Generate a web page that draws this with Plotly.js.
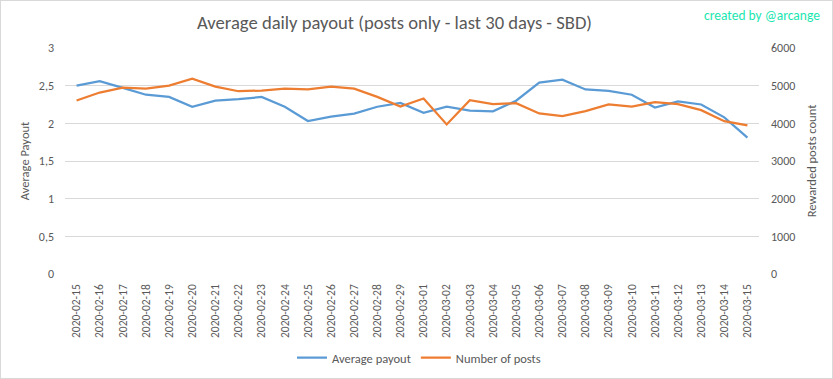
<!DOCTYPE html>
<html><head><meta charset="utf-8">
<script src="https://cdn.plot.ly/plotly-3.0.1.min.js"></script>
<style>
html,body{margin:0;padding:0;background:#fff;}
#chart{width:833px;height:379px;box-sizing:border-box;border:1px solid #d9d9d9;}
</style></head><body>
<div id="chart"></div>
<script>
const dates = ["2020-02-15","2020-02-16","2020-02-17","2020-02-18","2020-02-19","2020-02-20","2020-02-21","2020-02-22","2020-02-23","2020-02-24","2020-02-25","2020-02-26","2020-02-27","2020-02-28","2020-02-29","2020-03-01","2020-03-02","2020-03-03","2020-03-04","2020-03-05","2020-03-06","2020-03-07","2020-03-08","2020-03-09","2020-03-10","2020-03-11","2020-03-12","2020-03-13","2020-03-14","2020-03-15"];
const avgPayout = [2.50,2.56,2.47,2.38,2.35,2.22,2.30,2.32,2.35,2.22,2.03,2.09,2.13,2.22,2.27,2.14,2.22,2.17,2.16,2.30,2.54,2.58,2.45,2.43,2.38,2.21,2.29,2.25,2.08,1.81];
const numPosts = [4606,4817,4950,4923,5003,5188,4976,4852,4870,4923,4905,4976,4923,4703,4447,4658,3970,4614,4508,4535,4262,4190,4323,4500,4447,4561,4508,4350,4058,3944];
const leftTicks = [0,0.5,1,1.5,2,2.5,3];
const rightTicks = [0,1000,2000,3000,4000,5000,6000];

const FONT = "Carlito, 'Liberation Sans Narrow', Lato, sans-serif";
const GREY = "#595959";

const traces = [
  {x: dates, y: avgPayout, name: "Average payout", type: "scatter", mode: "lines",
   line: {color: "#5b9bd5", width: 2.25}, yaxis: "y"},
  {x: dates, y: numPosts, name: "Number of posts", type: "scatter", mode: "lines",
   line: {color: "#ed7d31", width: 2.25}, yaxis: "y2"}
];

const layout = {
  width: 831, height: 377,
  margin: {l: 64, r: 72.5, t: 47, b: 104, pad: 0, autoexpand: false},
  paper_bgcolor: "#fff", plot_bgcolor: "#fff",
  separators: ", ",
  font: {family: FONT, color: GREY, size: 12},
  title: {text: "Average daily payout (posts only - last 30 days - SBD)",
          font: {family: FONT, size: 18.6, color: GREY}, x: 0.4735, xref: "container", xanchor: "center",
          y: 1 - 21 / 377, yref: "container", yanchor: "middle"},
  showlegend: true,
  legend: {orientation: "h", x: 0.503, xref: "container", xanchor: "center", y: 1 - 357 / 377, yref: "container", yanchor: "middle",
           font: {family: FONT, size: 12.5, color: GREY}, itemwidth: 30, tracegroupgap: 0},
  xaxis: {type: "category", range: [-0.5, 29.5], showgrid: false, zeroline: false, automargin: false,
          showline: false, ticks: "", tickangle: -90, tickfont: {family: FONT, size: 11.5, color: GREY},
          ticklabelstandoff: 7, fixedrange: true},
  yaxis: {range: [0, 3], tickvals: leftTicks, showgrid: true, gridcolor: "#d9d9d9", gridwidth: 1, automargin: false,
          zeroline: false, showline: false, ticks: "", ticklabelstandoff: 10,
          tickfont: {family: FONT, size: 12, color: GREY},
          title: {text: "Average Payout", font: {family: FONT, size: 12.5, color: GREY}, standoff: 6}},
  yaxis2: {range: [0, 6000], tickvals: rightTicks, overlaying: "y", side: "right", showgrid: false, automargin: false,
           zeroline: false, showline: false, ticks: "", ticklabelstandoff: 11,
           tickfont: {family: FONT, size: 12, color: GREY},
           title: {text: "Rewarded posts count", font: {family: FONT, size: 12.5, color: GREY}, standoff: 12}},
  annotations: [{text: "created by @arcange", xref: "paper", yref: "paper", x: 1, y: 1,
                 xanchor: "right", yanchor: "middle", xshift: 63, yshift: 33, showarrow: false,
                 font: {family: FONT, size: 13.5, color: "#19e6b0"}}]
};

Plotly.newPlot("chart", traces, layout, {displayModeBar: false, staticPlot: true});
</script></body></html>
